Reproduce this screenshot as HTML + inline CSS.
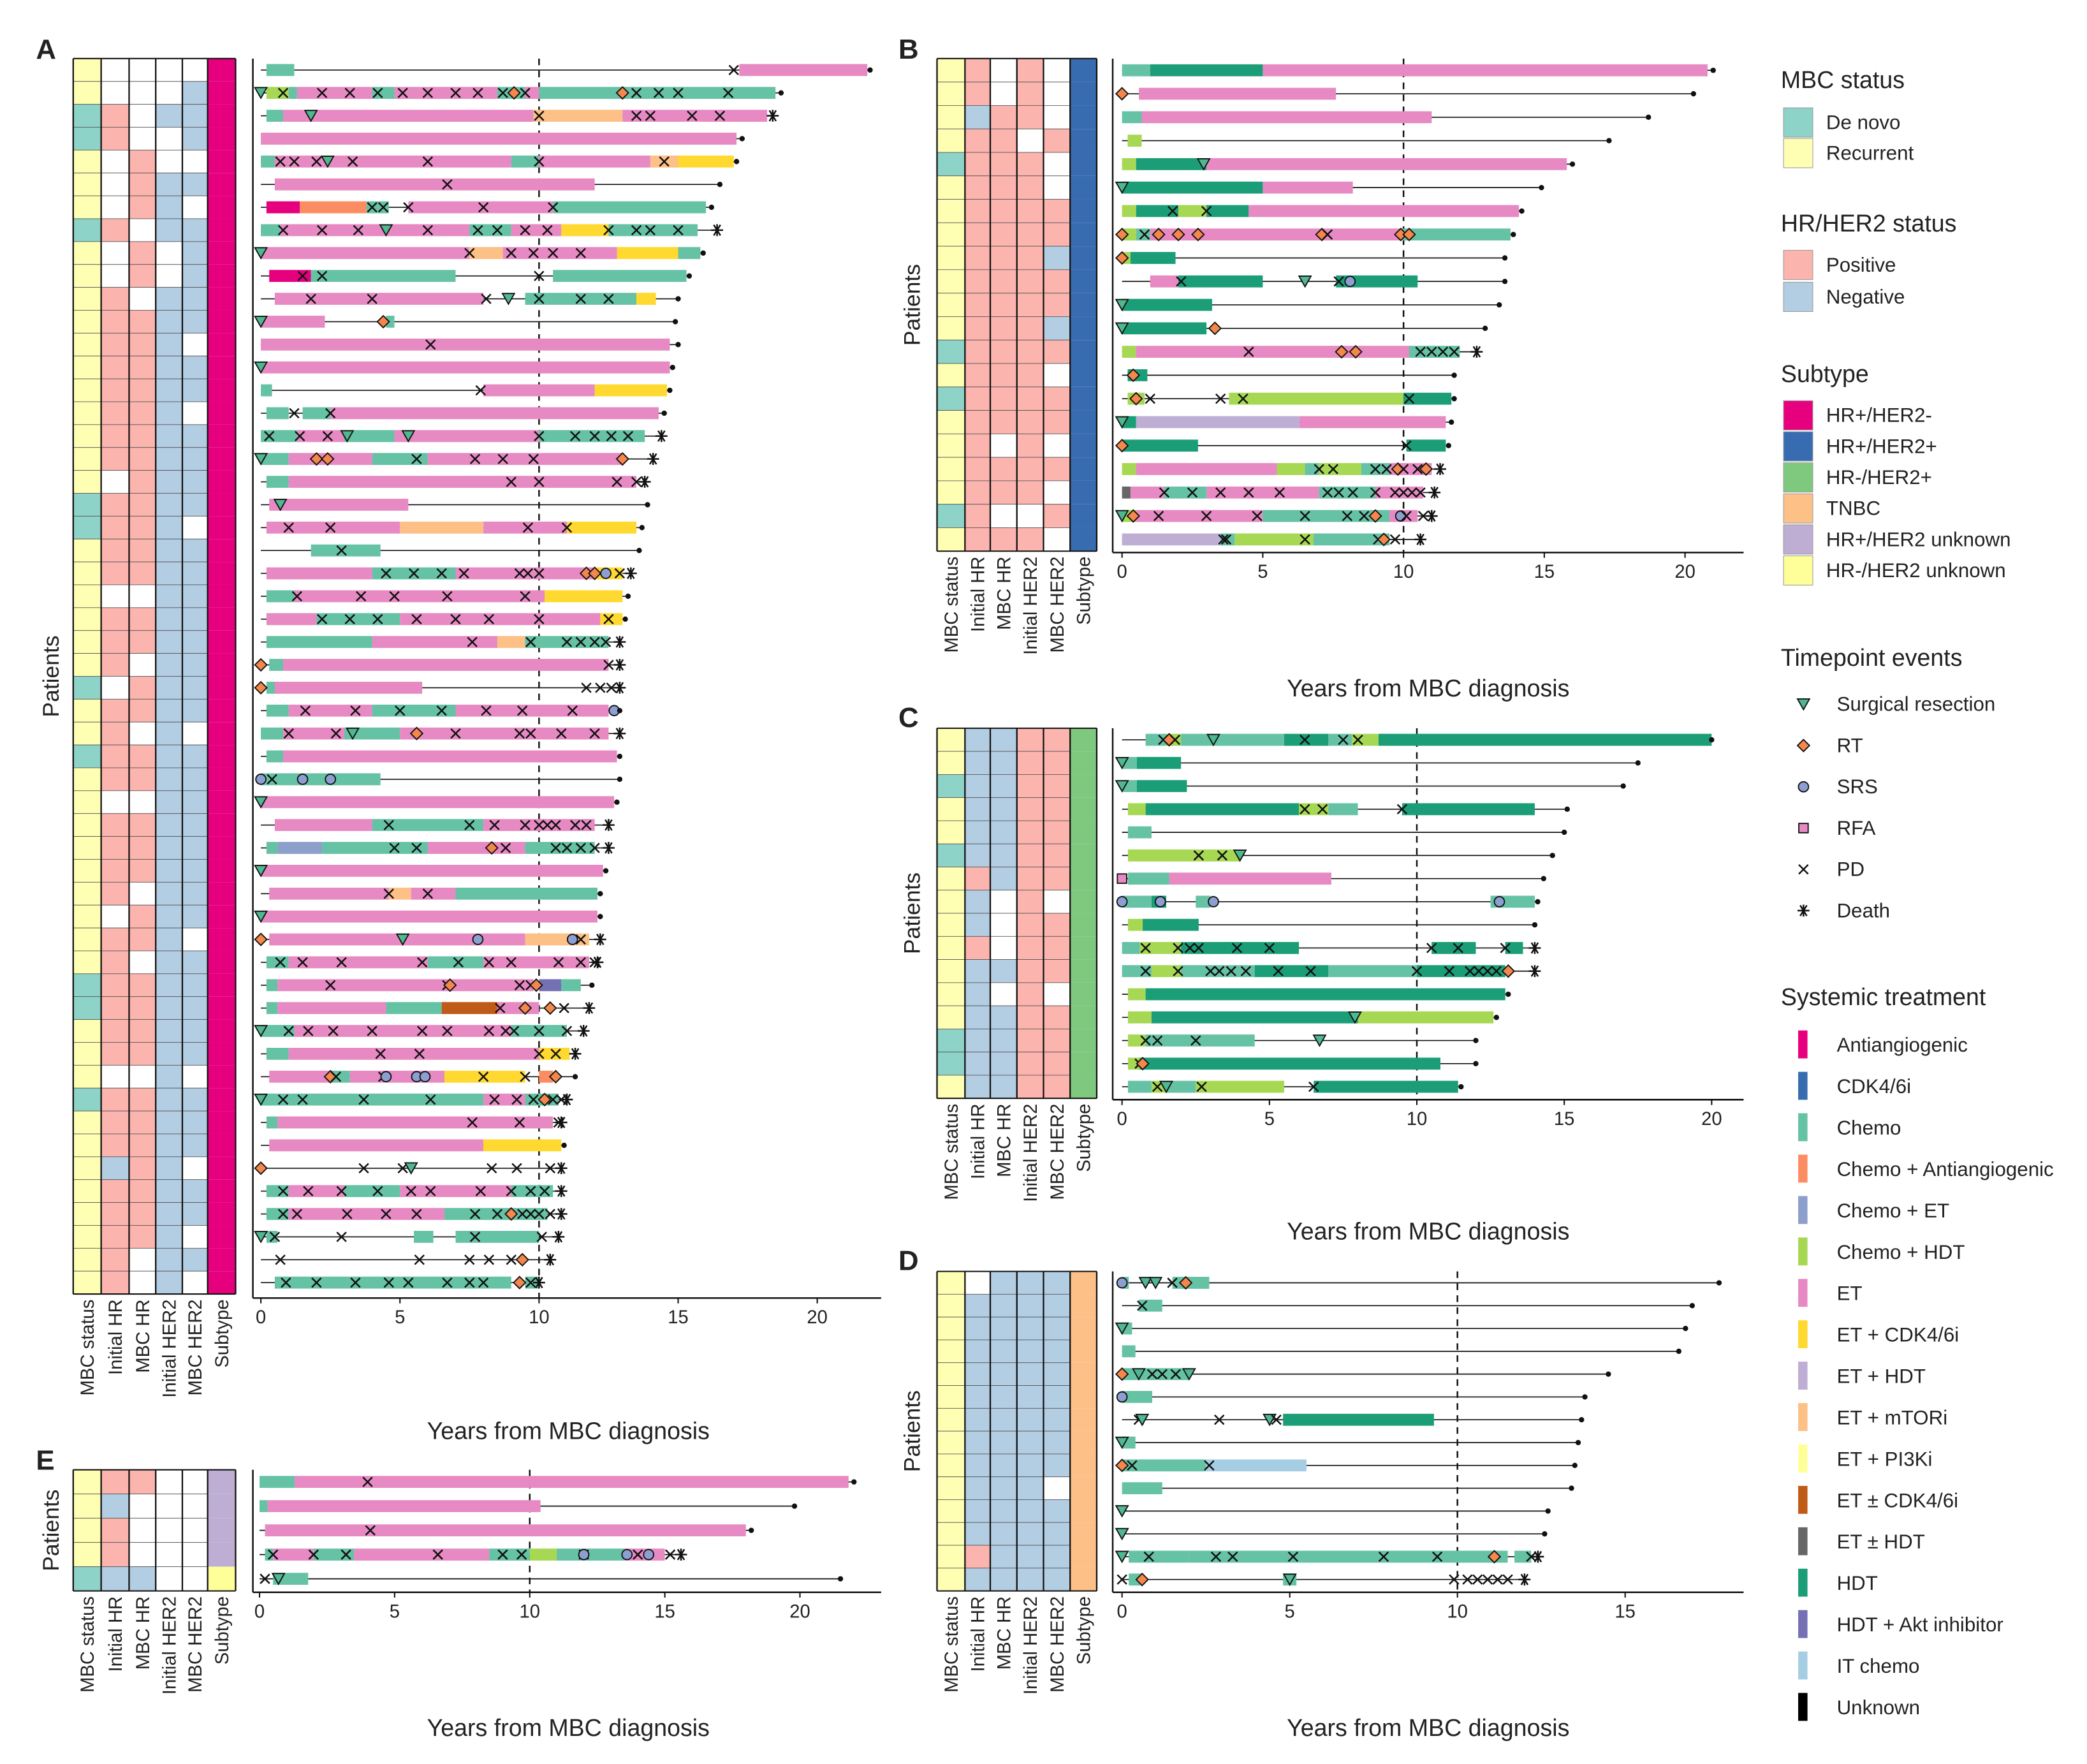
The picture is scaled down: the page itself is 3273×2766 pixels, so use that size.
<!DOCTYPE html>
<html><head><meta charset="utf-8"><style>
html,body{margin:0;padding:0;background:#fff}
svg{display:block}
text{font-family:"Liberation Sans",sans-serif;fill:#222}
</style></head><body>
<svg id="chart" xmlns="http://www.w3.org/2000/svg" width="3273" height="2766" viewBox="0 0 1568 1325" preserveAspectRatio="none">
<g id="root"></g>
</svg>
<script>
// ---------- DATA ----------
const heatCols = ["MBC status","Initial HR","MBC HR","Initial HER2","MBC HER2","Subtype"];
const ticksABCE = [0,5,10,15,20];
const ticksD = [0,5,10,15];

// Panel A rows: end, endType, segments, events
const endsA = [21.9,18.7,18.4,17.3,17.1,16.5,16.2,16.4,15.9,15.4,15.0,14.9,15.0,14.8,14.7,14.5,14.4,14.1,13.8,13.9,13.7,13.6,13.3,13.2,13.1,12.9,12.9,12.9,12.9,12.9,12.9,12.9,12.8,12.5,12.5,12.4,12.2,12.2,12.2,12.1,11.9,11.8,11.6,11.3,11.3,11.0,10.8,10.9,10.8,10.8,10.8,10.7,10.4,10.0];
const endTypeA = "..*...*.....................*...........*..*.....*..........".split("");
const deathA = [2,7,16,17,18,22,25,26,27,29,33,34,38,39,41,42,43,45,46,48,49,50,51,52,53];
const segsA = ["c0.2-1.2,e17.2-21.8","g0.2-1,c1-1.3,e1.3-4,c4-4.8,e4.8-8.5,c8.5-9.5,e9.5-10,c10-18.5","c0.2-0.8,e0.8-9.8,m9.8-13,e13-18.2","e0-17.1","c0-0.5,e0.5-9,c9-10,e10-14,m14-15,k15-17","e0.5-12","a0.2-1.4,o1.4-3.8,c3.8-4.6,e5.3-10.5,c10.5-16","c0-0.7,e0.7-7.5,c7.5-9,e9-10.8,k10.8-12.5,c12.5-15.7","e0-7.5,m7.5-8.7,e8.7-12.8,k12.8-15,c15-15.8","a0.3-1.8,c1.8-7,c10.5-15.3","e0.5-8,c9.5-13.5,k13.5-14.2","e0-2.3,c4.5-4.8","e0-14.7","e0-14.7","c0-0.4,e8-12,k12-14.6","c0.2-1,c1.5-2.5,e2.5-14.3","c0-1.3,e1.3-3,c3-4.8,e4.8-10,c10-13.8","c0-1,e1-4,c4-6,e6-13","c0.2-1,e1-13.5","e0.3-5.3","e0.2-5,m5-8,e8-11,k11-13.5","c1.8-4.3","e0.2-4,c4-7,e7-12,k12-13","c0.2-1.2,e1.2-10.2,k10.2-13","e0.2-2,c2-5,e5-12.2,k12.2-13","c0.2-4,e4-8.5,m8.5-9.5,c9.5-12.5","c0.3-0.8,e0.8-12.5","c0.2-0.6,e0.5-5.8","c0.2-1,e1-4,c4-7,e7-12.5","c0-0.8,e0.8-3,c3-5,e5-12.5","c0.2-0.8,e0.8-12.8","c0-4.3","e0-12.7","e0.5-4,c4-8,e8-12","c0.2-0.6,b0.6-2.2,c2.2-6,e6-9.5,c9.5-12","e0-12.3","e0.3-4.6,m4.6-5.4,e5.4-7,c7-12.1","e0-12.1","e0.3-9.5,m9.5-11.8","c0.2-1,e1-6,c6-8,e8-11.8","c0.2-0.6,e0.6-9.8,v10-10.8,c10.8-11.5","c0.2-0.6,e0.6-4.5,c4.5-6.5,n6.5-8.5,e8.5-10","c0-1.2,e1.2-9,c9-11","c0.2-1,e1-10,k10-11.1","e0.3-2.5,c2.5-3.2,e3.2-6.6,k6.6-9.5,o10-10.5","c0-0.5,c0.5-8,e8-9.5,c9.5-10.7","c0.2-0.6,e0.6-10.5","e0.3-8,k8-10.8","","c0.2-1,e1-3,c3-5,e5-9,c9-10.5","c0.2-1,e1-6.6,c6.6-10.3","c0.2-0.6,c5.5-6.2,c7-10","","c0.5-9,c9.5-10"];
const evA = ["x17","s0,x0.8,x2.2,x3.2,x4.2,x5.1,x6.0,x7.0,x7.8,x8.7,r9.1,x9.5,r13,x13.5,x14.3,x15,x16.8","s1.8,x10,x13.5,x14,x15.5,x16.5","","x0.7,x1.2,x2,s2.4,x3.3,x6,x10,x14.5","x6.7","x4,x4.4,x5.3,x8,x10.5","x0.8,x2.2,x3.5,s4.5,x6,x7.8,x8.5,x9.5,x10.3,x12.5,x13.5,x14,x15","s0,x7.5,x9,x9.8,x10.5,x11.5","x1.5,x2.2,x10","x1.8,x4,x8.1,s8.9,x10,x11.5,x12.5","s0,r4.4","x6.1","s0","x7.9","x1.2,x2.5","x0.3,x1.4,x2.4,s3.1,s5.3,x10,x11.3,x12,x12.6,x13.2","s0,r2.0,r2.4,x5.6,x7.7,x8.7,x9.8,r13","x9,x10,x12.8,x13.5","s0.7","x1,x2.5,x9.6,x11","x2.9","x4.5,x5.5,x6.5,x7.3,x9.3,x9.6,x10,r11.7,r12,o12.4,x12.9","x1.3,x3.6,x4.8,x6.7,x9.5","x2.2,x3.2,x4.2,x5.6,x7,x8.2,x10,x12.5","x7.6,x9.7,x11,x11.5,x12,x12.4","r0,x12.5","r0,x11.7,x12.2,x12.6","x1.6,x3.4,x5,x6.5,x8.1,x9.4,x11.2,o12.7","x1,x2.7,s3.3,r5.6,x7,x9.3,x9.7,x10.8,x12","","o0,x0.4,o1.5,o2.5","s0","x4.6,x7.5,x8.4,x9.5,x10,x10.3,x10.6,x11.3,x11.7","x4.8,x5.6,r8.3,x8.8,x10.6,x11,x11.5,x12","s0","x4.6,x6","s0","r0,s5.1,o7.8,o11.2,x11.5","x0.7,x1.5,x2.9,x5.8,x7.1,x8.2,x9,x10.7,x11.5,x12","x2.5,x6.7,r6.8,x9.3,x9.7,r9.9","x8.6,r9.5,r10.4,x10.9","s0,x1,x1.7,x2.6,x4,x5.8,x6.7,x8.2,x8.8,x9.1,x10,x11","x4.3,x5.7,x10,x10.6","r2.5,x2.7,x4.4,o4.5,o5.6,o5.9,x8,x9.5,r10.6","s0,x0.8,x1.5,x3.7,x6.1,x8.4,x9.2,x9.8,r10.2,x10.5,x10.8","x7.6,x9.3,x10.7","","r0,x3.7,x5.1,s5.4,x8.3,x9.2,x10.4","x0.8,x1.7,x2.9,x4.2,x5.4,x6.1,x7.9,x9,x9.7,x10.2","x0.8,x1.3,x3.1,x4.5,x5.6,x7.7,x8.5,r9,x9.4,x9.7,x10,x10.4","s0,x0.5,x2.9,x7.7,x10.1","x0.7,x5.7,x7.5,x8.2,x9,r9.4","x0.9,x2,x3.4,x4.6,x5.3,x6.7,x7.5,x8,r9.3,x9.7"];
const heatA = [
 "rrddrrrdrrrrrrrrrrrddrrrrrrdrrdrrrrrrrrrddrrrdrrrrrrrr",
 "wwppwwwpwwppppppppwppppwpppwppppwppppwppppppwpppnppppp",
 "wwwwpppwppwppppppppppppwppwppwppwpppwppwppppwpppppppwww",
 "wwnwwnnnwwnnnnnnnnnnnnnnnnnnnnnnnnnnnnnnnnnnnnnnnnnnnn",
 "wnnnwnwnnnnnwnnwnnnnwnnnnnnnnwnnnnnnnnwnnnnnwnnnwnnwnw",
 "MMMMMMMMMMMMMMMMMMMMMMMMMMMMMMMMMMMMMMMMMMMMMMMMMMMMMM"];

// Panel B
const endsB = [21.0,20.3,18.7,17.3,16.0,14.9,14.2,13.9,13.6,13.6,13.4,12.9,12.6,11.8,11.8,11.7,11.6,11.3,11.1,11.0,10.6];
const deathB = [12,17,18,19,20];
const segsB = ["c0-1,h1-5,e5-20.8","e0.6-7.6","c0-0.7,e0.7-11","g0.2-0.7","g0-0.5,h0.5-3,e3-15.8","h0-5,e5-8.2","g0-0.5,h0.5-2,g2-3,h3-4.5,e4.5-14.1","g0-0.5,c0.5-1,e1-10,c10-13.8","g0-0.3,h0.3-1.9","e1-2,h2-5,h7.6-10.5","h0-3.2","h0-3","g0-0.5,e0.5-10.2,c10.2-12","h0.2-0.9","g0.2-0.8,g3.8-5.5,g5.5-10,h10-11.7","h0-0.5,l0.5-6.3,e6.3-11.5","h0-2.7,h10.1-11.5","g0-0.5,e0.5-5.5,g5.5-6.5,c6.5-7,g7-8.5,c8.5-9.5,e9.5-11","q0-0.3,e0.3-1.5,c1.5-3,e3-7,c7-9,e9-10.7","g0-0.5,e0.5-5,c5-9.5,e9.5-10.5","l0-3.5,c3.5-4,g4-6.8,c6.8-9.5"];
const evB = ["","r0","","","s2.9","s0","x1.8,x3","r0,x0.8,r1.3,r2,r2.7,r7.1,x7.3,r9.9,r10.2","r0","x2.1,s6.5,x7.7,o8.1","s0","s0,r3.3","x4.5,r7.8,r8.3,x10.6,x11,x11.4,x11.8","r0.4","r0.5,x1,x3.5,x4.3,x10.2","s0","r0,x10.1","x7,x7.5,x9,x9.4,r9.8,x10,x10.5,r10.8","x1.5,x2.5,x3.5,x4.5,x5.6,x7.3,x7.7,x8.2,x9,x9.7,x10,x10.3,x10.6","s0,r0.4,x1.3,x3,x4.8,x6.5,x8,x8.6,r9,o9.9,x10.1,x10.7","x3.6,x3.7,x6.5,x9.1,r9.3,x9.7"];
const heatB = [
 "rrrrdrrrrrrrdrdrrrrdr",
 "ppnppppppppppppppppp p".replace(" ",""),
 "wwppppppppppppppwppwp",
 "pppwpppppppppppppppwp",
 "wwwpwwppnppnpwppwpwpw",
 "BBBBBBBBBBBBBBBBBBBBB"];

// Panel C
const endsC = [20.0,17.5,17.0,15.1,15.0,14.6,14.3,14.1,14.0,14.0,14.0,13.1,12.7,12.0,12.0,11.5];
const deathC = [9,10];
const segsC = ["c0.8-1.5,g1.5-2,c2-5.5,h5.5-7,c7-7.8,g7.8-8.7,h8.7-20","c0-0.5,h0.5-2","c0-0.5,h0.5-2.2","g0.2-0.8,h0.8-6,g6-7,c7-8,h9.5-14","c0.2-1","g0.2-2.5,g2.5-4","c0.2-1.6,e1.6-7.1","c0-1,h1-1.5,c2.5-3,c12.5-14","g0.2-0.7,h0.7-2.6","c0-0.6,g0.6-2,h2-6,h10.5-12,h13-13.6","c0-1,g1-2,c2-4.5,h4.5-7,c7-10,h10-13","g0.2-0.8,h0.8-13","g0.2-1,h1-8,g8-12.6","g0.2-0.8,c0.8-4.5","g0.2-0.6,h0.6-10.8","c0.2-1,g1-1.5,c1.5-2.5,g2.5-5.5,h6.5-11.4"];
const evC = ["x1.4,r1.6,x1.8,s3.1,x6.2,x7.5,x8","s0","s0","x6.2,x6.8,x9.5","","x2.6,x3.4,s4","f0","o0,o1.3,o3.1,o12.8","","x0.8,x1.9,x2.3,x2.6,x3.9,x5,x10.5,x11.4,x13","x0.8,x1.9,x3,x3.3,x3.7,x4.2,x5.3,x6.4,x10,x11.1,x11.8,x12.1,x12.4,x12.7,r13.1","","s7.9","x0.8,x1.2,x2.5,s6.7","x0.6,r0.7","x1.2,s1.5,x2.7,x6.5"];
const heatC = [
 "rrdrrdrrrrrrrddr",
 "nnnnnnpnnpnnnnnn",
 "nnnnnnnwwwnwnnnn",
 "pppppppppppppppp",
 "pppppppwpppwpppp",
 "GGGGGGGGGGGGGGGG"];

// Panel D
const endsD = [17.8,17.0,16.8,16.6,14.5,13.8,13.7,13.6,13.5,13.4,12.7,12.6,12.4,12.0];
const deathD = [12,13];
const segsD = ["c0-0.2,c1.5-2.6","c0.5-1.2","c0-0.3","c0-0.4","c0-2","c0-0.9","h4.8-9.3","c0-0.4","c0-2.5,i2.5-5.5","c0-1.2","","","c0.2-2,c2-11.5,c11.7-12.2","c0.2-0.6,c4.8-5.2"];
const evD = ["o0,s0.7,s1,x1.5,r1.9","x0.6","s0","","r0,s0.5,x0.9,x1.2,x1.6,s2","o0","x0.5,s0.6,x2.9,s4.4,x4.6","s0","r0,x0.3,x2.6","","s0","s0","s0,x0.8,x2.8,x3.3,x5.1,x7.8,x9.4,r11.1,x12.2","x0,r0.6,s5,x9.9,x10.3,x10.6,x10.9,x11.2,x11.5"];
const heatD = [
 "rrrrrrrrrrrrrr",
 "wnnnnnnnnnnnpn",
 "nnnnnnnnnnnnnn",
 "nnnnnnnnnnnnnn",
 "nnnnnnnnnwnnnn",
 "OOOOOOOOOOOOOO"];

// Panel E
const endsE = [22.0,19.8,18.2,15.6,21.5];
const deathE = [3];
const segsE = ["c0-1.3,e1.3-21.8","c0-0.3,e0.3-10.4","e0.2-18","c0.2-0.5,e0.5-2,c2-3.5,e3.5-8.5,c8.5-10,g10-11,c11-13.5,e13.5-15","c0.5-1.8"];
const evE = ["x4","","x4.1","x0.5,x2,x3.2,x6.6,x9,x9.7,x12,o12,o13.6,x14,o14.4,x15.2","x0.2,s0.7"];
const heatE = ["rrrrd","pnppn","pwwwn","wwwww","wwwww","LLLLY"];

// ---------- STYLE MAPS ----------
const segColor = {c:"#66c2a5",e:"#e78ac3",h:"#1b9e77",g:"#a6d854",k:"#ffd92f",m:"#fdc086",a:"#e7007e",o:"#fc8d62",b:"#8da0cb",l:"#beaed4",p:"#ffff99",n:"#bf5b17",q:"#666666",v:"#7570b3",i:"#a6cee3",u:"#000000",d:"#386cb0"};
const heatColor = {d:"#8dd3c7",r:"#ffffb3",p:"#fbb4ae",n:"#b3cde3",w:"#ffffff",M:"#e7007e",B:"#386cb0",G:"#7fc97f",O:"#fdc086",L:"#beaed4",Y:"#ffff99"};

const NS="http://www.w3.org/2000/svg";
const root=document.getElementById('root');
function mk(tag,attrs,parent){const e=document.createElementNS(NS,tag);for(const k in attrs)e.setAttribute(k,attrs[k]);(parent||root).appendChild(e);return e;}
function txt(s,x,y,size,attrs,parent){const t=mk('text',Object.assign({x:x,y:y,'font-size':size},attrs||{}),parent);t.textContent=s;return t;}

function marker(g,type,x,y){
  let e;
  if(type==='x'){e=mk('path',{d:`M${x-3.5},${y-3.5}L${x+3.5},${y+3.5}M${x-3.5},${y+3.5}L${x+3.5},${y-3.5}`,stroke:'#111','stroke-width':1.2,fill:'none'},g);}
  else if(type==='s'){e=mk('path',{d:`M${x-4.5},${y-4}L${x+4.5},${y-4}L${x},${y+4}Z`,fill:'#4fb890',stroke:'#111','stroke-width':0.9},g);}
  else if(type==='r'){e=mk('path',{d:`M${x},${y-4.5}L${x+4.5},${y}L${x},${y+4.5}L${x-4.5},${y}Z`,fill:'#f4874b',stroke:'#111','stroke-width':0.9},g);}
  else if(type==='o'){e=mk('circle',{cx:x,cy:y,r:3.8,fill:'#8c9fd0',stroke:'#111','stroke-width':0.9},g);}
  else if(type==='f'){e=mk('rect',{x:x-3.5,y:y-3.5,width:7,height:7,fill:'#e78ac3',stroke:'#111','stroke-width':0.9},g);}
  else if(type==='*'){e=mk('path',{d:`M${x-4.5},${y}L${x+4.5},${y}M${x-2.5},${y-4}L${x+2.5},${y+4}M${x-2.5},${y+4}L${x+2.5},${y-4}M${x},${y-4.5}L${x},${y+4.5}`,stroke:'#111','stroke-width':1.2,fill:'none'},g);}
  else {e=mk('circle',{cx:x,cy:y,r:2,fill:'#111'},g);}
  return e;
}

function panel(P){
  const g=mk('g',{});
  
  
  const n=P.ends.length;
  const rowH=(P.hy1-P.hy0)/n;
  const xs=P.hx; // 7 boundaries
  // heatmap
  const hm=mk('g',{},g);
  
  
  for(let c=0;c<6;c++){
    const s=P.heat[c];
    for(let r=0;r<n;r++){
      const ch=s[r]||'w';
      const rc=mk('rect',{x:xs[c],y:P.hy0+r*rowH,width:xs[c+1]-xs[c],height:rowH,fill:heatColor[ch],stroke:(c===5?'none':'#555'),'stroke-width':0.4},hm);
      
      
    }
  }
  for(let c=0;c<=6;c++) mk('line',{x1:xs[c],y1:P.hy0,x2:xs[c],y2:P.hy1,stroke:'#111','stroke-width':1.1},hm);
  mk('line',{x1:xs[0],y1:P.hy0,x2:xs[6],y2:P.hy0,stroke:'#111','stroke-width':1},hm);
  mk('line',{x1:xs[0],y1:P.hy1,x2:xs[6],y2:P.hy1,stroke:'#111','stroke-width':1},hm);
  for(let c=0;c<6;c++){
    const cx=(xs[c]+xs[c+1])/2+5;
    const t=txt(heatCols[c],cx,P.hy1+4,14,{transform:`rotate(-90 ${cx} ${P.hy1+4})`,'text-anchor':'end'},g);
    
    
  }
  // y label Patients
  const py=(P.hy0+P.hy1)/2;
  const pl=txt('Patients',P.patX,py,17,{transform:`rotate(-90 ${P.patX} ${py})`,'text-anchor':'middle'},g);
  
  
  // panel letter
  const lt=txt(P.id,P.lx,P.ly,21,{'font-weight':'bold'},g);
  
  
  // axes
  const sx=v=>P.x0+v*P.ppy;
  mk('line',{x1:P.ax,y1:P.hy0,x2:P.ax,y2:P.bottom,stroke:'#111','stroke-width':1.2},g);
  mk('line',{x1:P.ax,y1:P.bottom,x2:P.axR,y2:P.bottom,stroke:'#111','stroke-width':1.2},g);
  P.ticks.forEach(t=>{
    mk('line',{x1:sx(t),y1:P.bottom,x2:sx(t),y2:P.bottom+4,stroke:'#111','stroke-width':1},g);
    const tl=txt(String(t),sx(t),P.bottom+19,14,{'text-anchor':'middle'},g);
    
    
  });
  const xt=txt('Years from MBC diagnosis',P.titleX,P.titleY,18,{'text-anchor':'middle'},g);
  
  
  mk('line',{x1:sx(10),y1:P.hy0,x2:sx(10),y2:P.bottom,stroke:'#111','stroke-width':1.2,'stroke-dasharray':'5,4'},g);
  // rows
  for(let r=0;r<n;r++){
    const y=P.hy0+(r+0.5)*rowH;
    const rg=mk('g',{},g);
    
    
    mk('line',{x1:sx(0),y1:y,x2:sx(P.ends[r]),y2:y,stroke:'#111','stroke-width':0.8},rg);
    (P.segs[r]||'').split(',').filter(s=>s).forEach(s=>{
      const k=s[0];const [a,b]=s.slice(1).split('-').map(Number);
      const bar=mk('rect',{x:sx(a),y:y-4.5,width:Math.max(1,sx(b)-sx(a)),height:9,fill:segColor[k]},rg);
      
      
    });
    (P.ev[r]||'').split(',').filter(s=>s).forEach(s=>{
      const m=marker(rg,s[0],sx(parseFloat(s.slice(1))),y);
      
      
    });
    const em=marker(rg,P.death.includes(r)?'*':'.',sx(P.ends[r]),y);
    
    
  }
}

const hxA=[55,76,97,117,137,156,177];
const hxB=[704,725,744,764,784,804,824];
panel({id:'A',ends:endsA,segs:segsA,ev:evA,death:deathA,heat:heatA,hx:hxA,hy0:44,hy1:972,ax:190,axR:662,bottom:975,x0:196,ppy:20.9,ticks:ticksABCE,titleX:427,titleY:1081,patX:44,lx:27,ly:44});
panel({id:'B',ends:endsB,segs:segsB,ev:evB,death:deathB,heat:heatB,hx:hxB,hy0:44,hy1:414,ax:836,axR:1310,bottom:415,x0:843,ppy:21.15,ticks:ticksABCE,titleX:1073,titleY:523,patX:691,lx:675,ly:44});
panel({id:'C',ends:endsC,segs:segsC,ev:evC,death:deathC,heat:heatC,hx:hxB,hy0:547,hy1:825,ax:836,axR:1310,bottom:826,x0:843,ppy:22.15,ticks:ticksABCE,titleX:1073,titleY:931,patX:691,lx:675,ly:546});
panel({id:'D',ends:endsD,segs:segsD,ev:evD,death:deathD,heat:heatD,hx:hxB,hy0:955,hy1:1195,ax:836,axR:1310,bottom:1196,x0:843,ppy:25.2,ticks:ticksD,titleX:1073,titleY:1304,patX:691,lx:675,ly:954});
panel({id:'E',ends:endsE,segs:segsE,ev:evE,death:deathE,heat:heatE,hx:hxA,hy0:1104,hy1:1195,ax:190,axR:662,bottom:1196,x0:195,ppy:20.3,ticks:ticksABCE,titleX:427,titleY:1304,patX:44,lx:27,ly:1104});

// ---------- LEGEND ----------
const lg=mk('g',{});


function ltitle(s,y){const t=txt(s,1338,y,18,{},lg);}
function lbox(label,color,y){
  const r=mk('rect',{x:1340,y:y-16,width:22,height:22,fill:color,stroke:'#999','stroke-width':0.5},lg);
  
  const t=txt(label,1372,y,15,{},lg);
}
ltitle('MBC status',66);
lbox('De novo','#8dd3c7',97);lbox('Recurrent','#ffffb3',120);
ltitle('HR/HER2 status',174);
lbox('Positive','#fbb4ae',204);lbox('Negative','#b3cde3',228);
ltitle('Subtype',287);
const subL=['HR+/HER2-','HR+/HER2+','HR-/HER2+','TNBC','HR+/HER2 unknown','HR-/HER2 unknown'];
const subC=['#e7007e','#386cb0','#7fc97f','#fdc086','#beaed4','#ffff99'];
subL.forEach((s,i)=>lbox(s,subC[i],317+i*23.3));
ltitle('Timepoint events',500);
const evL=['Surgical resection','RT','SRS','RFA','PD','Death'];
const evK=['s','r','o','f','x','*'];
evL.forEach((s,i)=>{const y=534+i*31;const m=marker(lg,evK[i],1355,y-5);const t=txt(s,1380,y,15,{},lg);});
ltitle('Systemic treatment',755);
const trL=['Antiangiogenic','CDK4/6i','Chemo','Chemo + Antiangiogenic','Chemo + ET','Chemo + HDT','ET','ET + CDK4/6i','ET + HDT','ET + mTORi','ET + PI3Ki','ET ± CDK4/6i','ET ± HDT','HDT','HDT + Akt inhibitor','IT chemo','Unknown'];
const trC=['#e7007e','#386cb0','#66c2a5','#fc8d62','#8da0cb','#a6d854','#e78ac3','#ffd92f','#beaed4','#fdc086','#ffff99','#bf5b17','#666666','#1b9e77','#7570b3','#a6cee3','#000000'];
trL.forEach((s,i)=>{const y=790+i*31.1;const r=mk('rect',{x:1351,y:y-16,width:7,height:21,fill:trC[i]},lg);const t=txt(s,1380,y,15,{},lg);});
</script>
</body></html>
